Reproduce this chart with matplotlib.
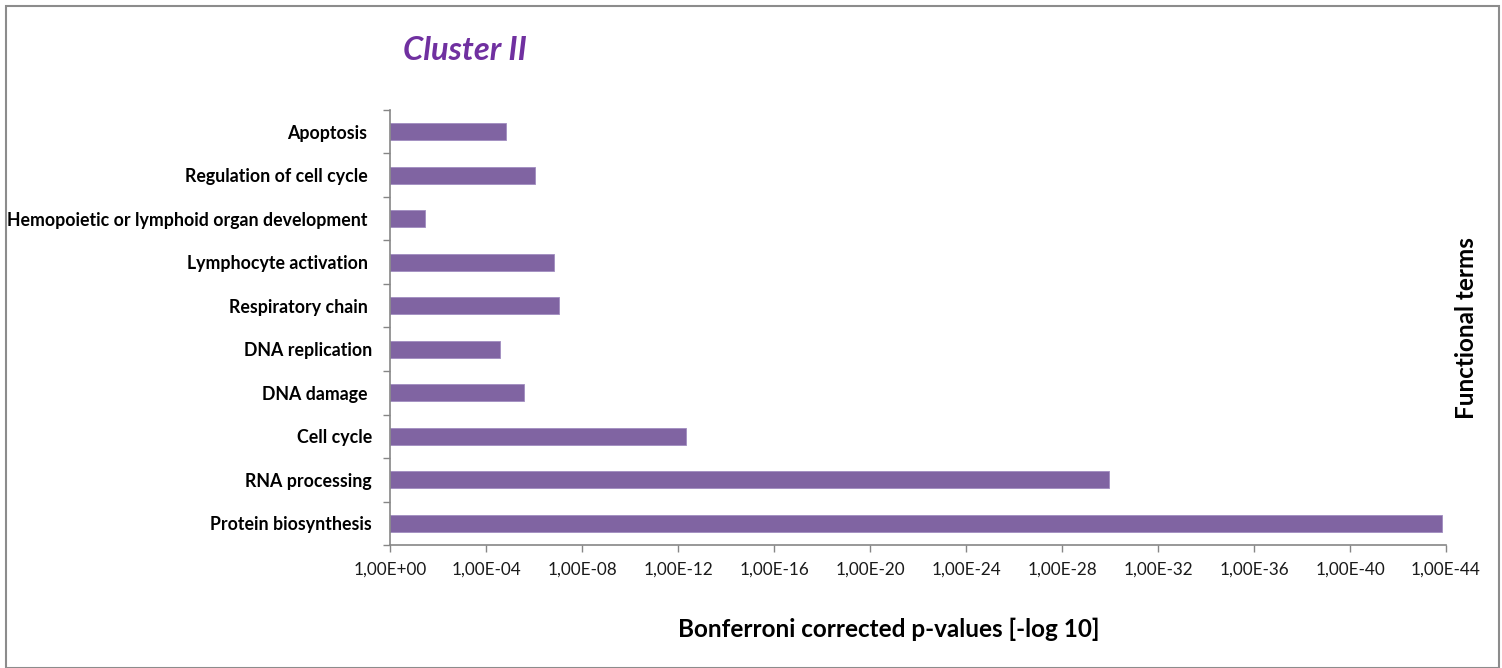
import matplotlib
matplotlib.use('Agg')
import matplotlib.pyplot as plt
from matplotlib.patches import Rectangle
import numpy as np

plt.rcParams['font.family'] = ['Lato', 'DejaVu Sans']

# functional terms, listed bottom to top
terms = ['Protein biosynthesis', 'RNA processing', 'Cell cycle', 'DNA damage ',
         'DNA replication', 'Respiratory chain ', 'Lymphocyte activation ',
         'Hemopoietic or lymphoid organ development ', 'Regulation of cell cycle ',
         'Apoptosis ']
neg_log_p = [43.85, 29.94, 12.33, 5.60, 4.60, 7.04, 6.85, 1.45, 6.03, 4.85]

tick_vals = list(range(0, 45, 4))
tick_labels = ['1,00E+00'] + ['1,00E-%02d' % v for v in tick_vals[1:]]

bar_color = '#8064A2'
axis_grey = '#868686'

fig = plt.figure(figsize=(15.02, 6.68), dpi=100)
ax = fig.add_axes([390 / 1502, 123 / 668, 1056 / 1502, 435 / 668])

y = np.arange(len(terms))
ax.barh(y, neg_log_p, height=0.39, color=bar_color, edgecolor='#a08cc0', linewidth=0.6)

ax.set_xlim(0, 44)
ax.set_ylim(-0.5, len(terms) - 0.5)
ax.set_xticks(tick_vals)
ax.set_xticklabels(tick_labels, fontsize=12.3, color='#1a1a1a')
ax.set_yticks(y)
ax.set_yticklabels(terms, fontsize=12.8, fontweight='bold')
ax.set_yticks(np.arange(-0.5, len(terms), 1), minor=True)

ax.tick_params(axis='y', which='major', length=0, pad=13)
ax.tick_params(axis='y', which='minor', length=5, color=axis_grey, width=1)
ax.tick_params(axis='x', length=5, color=axis_grey, width=1, pad=7)

for side in ['top', 'right']:
    ax.spines[side].set_visible(False)
for side in ['left', 'bottom']:
    ax.spines[side].set_color(axis_grey)
    ax.spines[side].set_linewidth(1.2)

ax.set_xlabel('Bonferroni corrected p-values [-log 10]', fontsize=17.5,
              fontweight='bold')
ax.xaxis.set_label_coords(0.4725, -0.168)

fig.text(465 / 1502, 1 - 50 / 668, 'Cluster II', fontsize=23.5, fontweight='bold',
         style='italic', color='#7030A0', ha='center', va='center')
fig.text(1466 / 1502, 1 - 328 / 668, 'Functional terms', fontsize=17.5,
         fontweight='bold', rotation=90, ha='center', va='center')

# chart frame
fig.patches.append(Rectangle((6 / 1502, 0), 1493 / 1502, 662 / 668,
                             transform=fig.transFigure, fill=False,
                             edgecolor='#8c8c8c', linewidth=1.5))

fig.savefig('out.png', dpi=100, facecolor='white')
